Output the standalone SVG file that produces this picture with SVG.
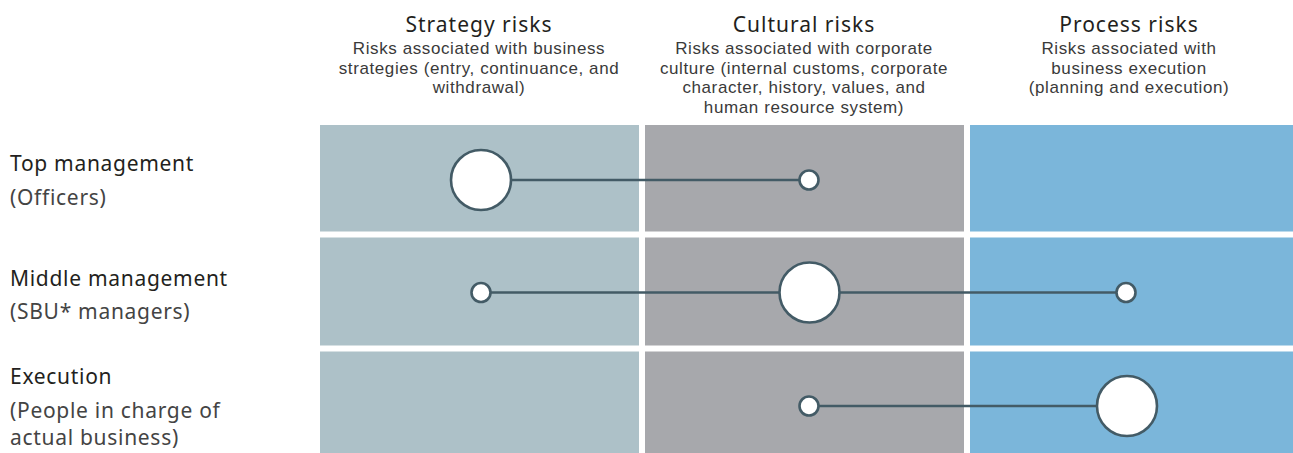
<svg xmlns="http://www.w3.org/2000/svg" width="1293" height="453" viewBox="0 0 1293 453">
<style>
.c1{fill:#adc1c8}.c2{fill:#a7a8ac}.c3{fill:#7bb6da}
.h{font-family:"Noto Sans","Liberation Sans",sans-serif;font-size:21px;letter-spacing:1px;fill:#231f20;text-anchor:middle}
.s{font-family:"Liberation Sans",Arial,sans-serif;font-size:17px;letter-spacing:0.6px;fill:#3a3a3a;text-anchor:middle}
.l{font-family:"Noto Sans","Liberation Sans",sans-serif;font-size:21px;letter-spacing:0.7px;fill:#231f20}
.ls{font-family:"Noto Sans","Liberation Sans",sans-serif;font-size:21px;letter-spacing:0.7px;fill:#444}
.edge{stroke:#435b66;stroke-width:2.6;fill:none}
.node{fill:#fff;stroke:#435b66;stroke-width:2.6}
</style>
<rect width="1293" height="453" fill="#fff"/>
<g id="grid">
<rect class="c1" x="320" y="125" width="319" height="106.5"/>
<rect class="c2" x="645" y="125" width="319" height="106.5"/>
<rect class="c3" x="970" y="125" width="323" height="106.5"/>
<rect class="c1" x="320" y="237.5" width="319" height="108"/>
<rect class="c2" x="645" y="237.5" width="319" height="108"/>
<rect class="c3" x="970" y="237.5" width="323" height="108"/>
<rect class="c1" x="320" y="351.5" width="319" height="101.5"/>
<rect class="c2" x="645" y="351.5" width="319" height="101.5"/>
<rect class="c3" x="970" y="351.5" width="323" height="101.5"/>
</g>
<g id="col-strategy">
<text class="h" x="479" y="32">Strategy risks</text>
<text class="s" x="479" y="54">Risks associated with business</text>
<text class="s" x="479" y="74">strategies (entry, continuance, and</text>
<text class="s" x="479" y="93">withdrawal)</text>
</g>
<g id="col-cultural">
<text class="h" x="804" y="32">Cultural risks</text>
<text class="s" x="804" y="54">Risks associated with corporate</text>
<text class="s" x="804" y="74">culture (internal customs, corporate</text>
<text class="s" x="804" y="93">character, history, values, and</text>
<text class="s" x="804" y="113">human resource system)</text>
</g>
<g id="col-process">
<text class="h" x="1129" y="32">Process risks</text>
<text class="s" x="1129" y="54">Risks associated with</text>
<text class="s" x="1129" y="74">business execution</text>
<text class="s" x="1129" y="93">(planning and execution)</text>
</g>
<g id="row-top">
<text class="l" x="10" y="171">Top management</text>
<text class="ls" x="10" y="205">(Officers)</text>
</g>
<g id="row-middle">
<text class="l" x="10" y="286">Middle management</text>
<text class="ls" x="10" y="319">(SBU* managers)</text>
</g>
<g id="row-execution">
<text class="l" x="10" y="384">Execution</text>
<text class="ls" x="10" y="418">(People in charge of</text>
<text class="ls" x="10" y="445">actual business)</text>
</g>
<g id="connectors">
<line class="edge" x1="481" y1="180" x2="809" y2="180"/>
<line class="edge" x1="481" y1="292.5" x2="1126" y2="292.5"/>
<line class="edge" x1="809" y1="406" x2="1127" y2="406"/>
</g>
<g id="n-top-strategy"><circle class="node" cx="481" cy="180" r="30"/></g>
<g id="n-top-cultural"><circle class="node" cx="809" cy="180" r="9.5"/></g>
<g id="n-mid-strategy"><circle class="node" cx="481" cy="292.5" r="9.5"/></g>
<g id="n-mid-cultural"><circle class="node" cx="809.5" cy="292.5" r="30"/></g>
<g id="n-mid-process"><circle class="node" cx="1126" cy="292.5" r="9.5"/></g>
<g id="n-exe-cultural"><circle class="node" cx="809" cy="406" r="9.5"/></g>
<g id="n-exe-process"><circle class="node" cx="1127" cy="406" r="30"/></g>
</svg>
